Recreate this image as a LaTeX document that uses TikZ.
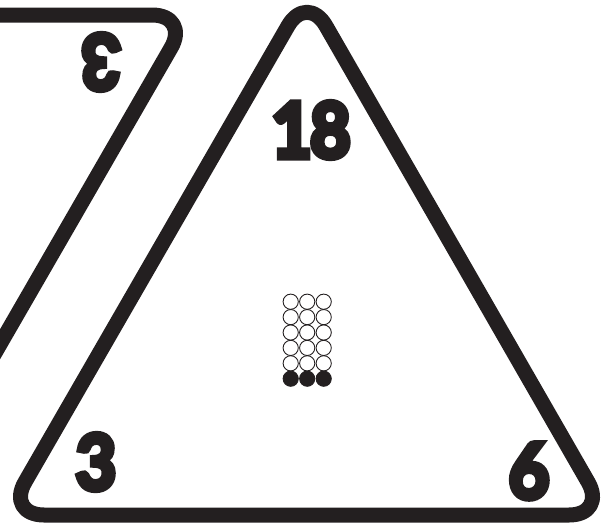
\documentclass[tikz,border=0pt]{standalone}
\usepackage{fontspec}
\newfontfamily\numfont{Lato}[BoldFeatures={FakeBold=8}]
\definecolor{ink}{RGB}{35,31,32}
\tikzset{
  piece/.style={draw=ink, line width=15pt, rounded corners=38pt, line join=round},
  num/.style={text=ink, font=\numfont\bfseries\fontsize{76}{76}\selectfont, inner sep=0pt, anchor=center},
  hollow/.style={circle, draw=ink, line width=0.9pt, minimum size=15.2pt, inner sep=0pt},
  solid/.style={circle, fill=ink, draw=ink, line width=0.9pt, minimum size=15.2pt, inner sep=0pt}
}
\begin{document}
\begin{tikzpicture}[x=1pt,y=-1pt]
\useasboundingbox (0,0) rectangle (611,528);
\clip (0,0) rectangle (611,528);
% left partial piece (inverted triangle)
\draw[piece] (190,15) -- (-411,15) -- (-110,535) -- cycle;
% main triangle
\draw[piece] (6,515) -- (307,-7) -- (607,515) -- cycle;
% numbers
\node[num, xscale=0.92] (n18) at (311,130) {1\kern-2pt 8};
\node[num, xscale=0.92] (n3) at (96,462) {3};
\node[num, xscale=0.92] (n6) at (529,471) {6};
\node[num, xscale=0.92, rotate=180] (n3b) at (101,62) {3};
% dots
\foreach \r in {0,...,4} {
  \foreach \c in {0,1,2} {
    \node[hollow] (d-\r-\c) at (290.7+16.5*\c, 301.7+15.4*\r) {};
  }
}
\foreach \c in {0,1,2} {
  \node[solid] (d-5-\c) at (290.7+16.5*\c, 378.7) {};
}
\end{tikzpicture}
\end{document}
